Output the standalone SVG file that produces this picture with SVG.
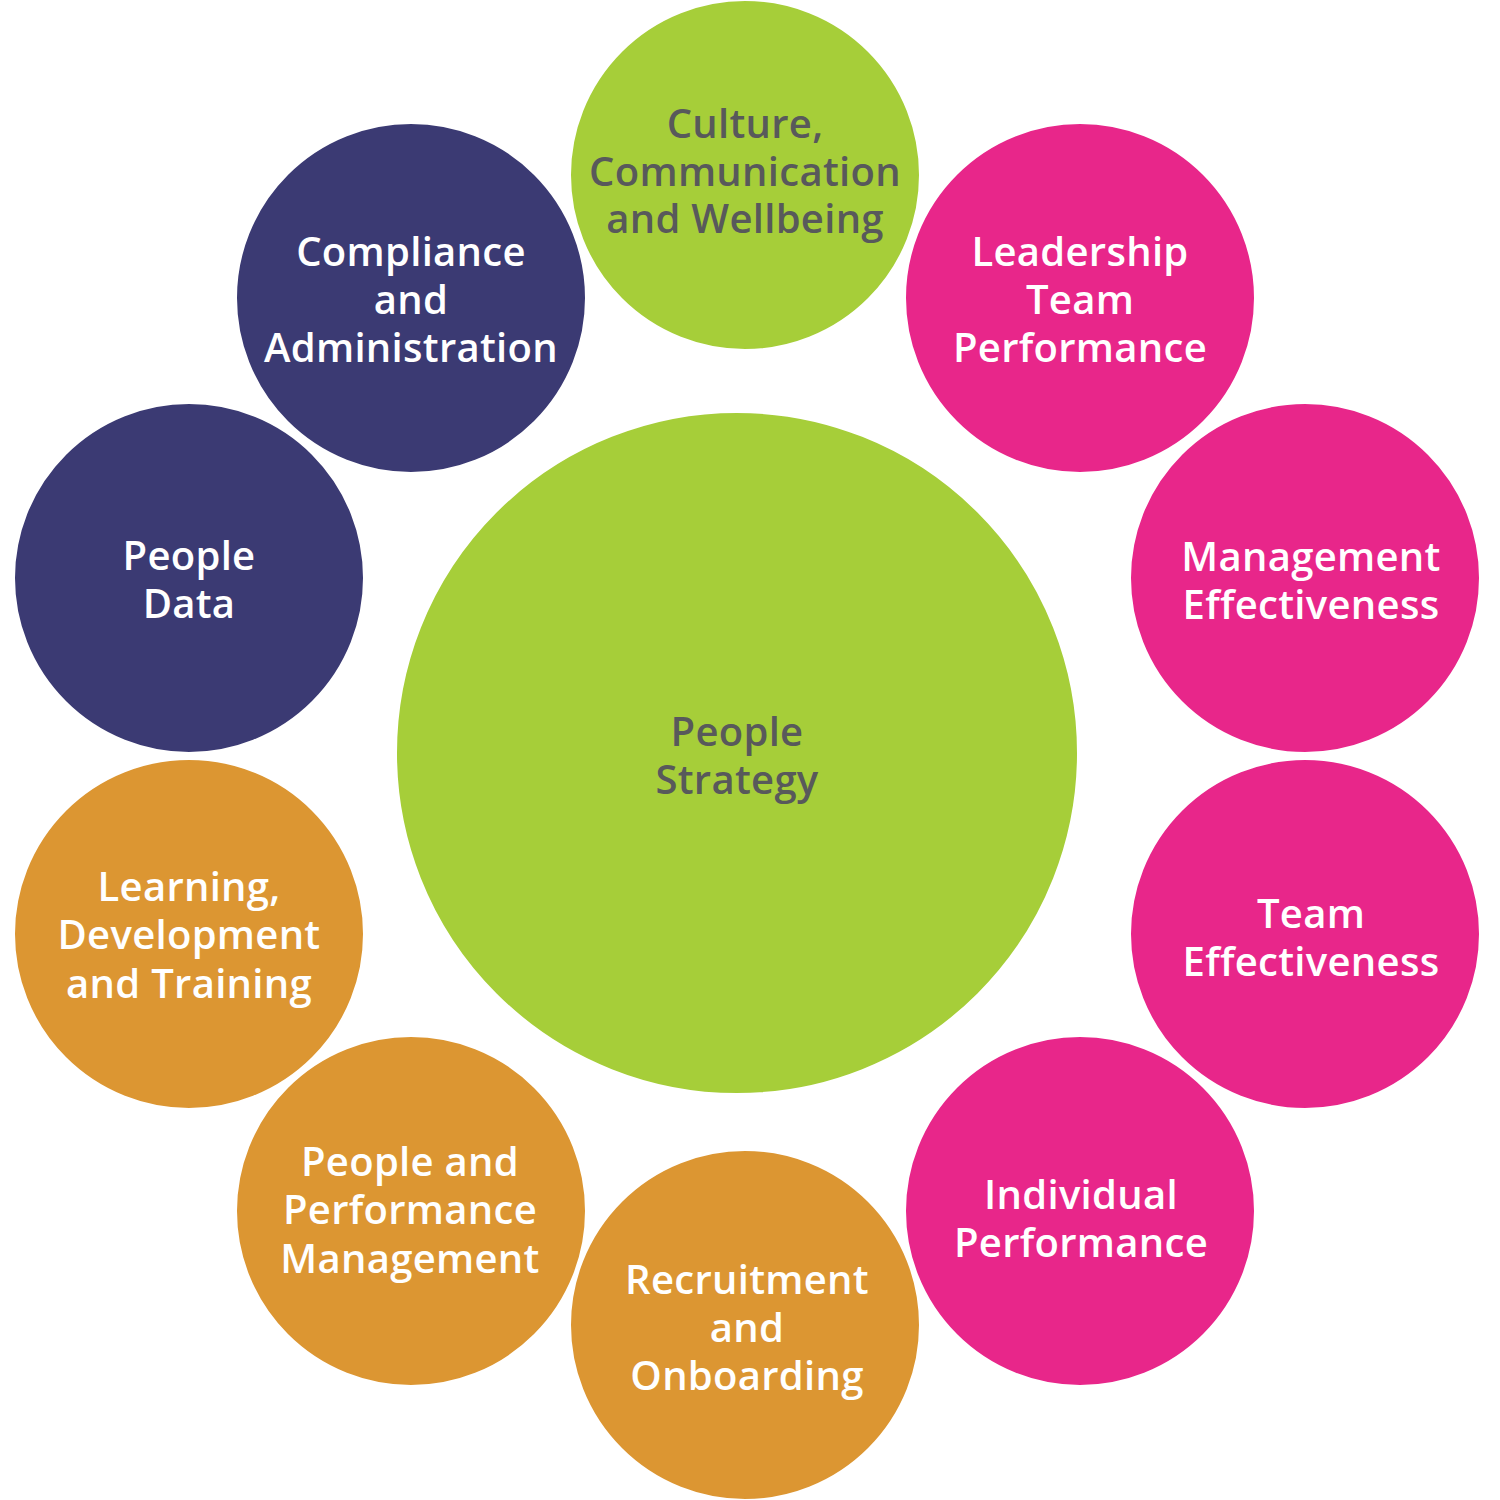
<svg xmlns="http://www.w3.org/2000/svg" width="1500" height="1500" viewBox="0 0 1500 1500">
<style>
.c{stroke:#fff;stroke-width:4}
.g{fill:#A6CE39}.n{fill:#3B3A73}.p{fill:#E8268A}.o{fill:#DC9632}
text{font-family:"Open Sans","Liberation Sans",sans-serif;font-weight:600;font-size:40px;letter-spacing:0.3px;text-anchor:middle}
.w{fill:#fff}.d{fill:#58595B}
</style>
<rect width="1500" height="1500" fill="#fff"/>
<g id="connectors"/>
<g id="culture"><circle class="c g" cx="745" cy="175" r="176"/><text class="d" x="745"><tspan x="745" y="138">Culture,</tspan><tspan x="745" y="186">Communication</tspan><tspan x="745" y="233">and Wellbeing</tspan></text></g>
<g id="compliance"><circle class="c n" cx="411" cy="298" r="176"/><text class="w"><tspan x="411" y="266">Compliance</tspan><tspan x="411" y="314">and</tspan><tspan x="411" y="362">Administration</tspan></text></g>
<g id="leadership"><circle class="c p" cx="1080" cy="298" r="176"/><text class="w"><tspan x="1080" y="266">Leadership</tspan><tspan x="1080" y="314">Team</tspan><tspan x="1080" y="362">Performance</tspan></text></g>
<g id="management"><circle class="c p" cx="1305" cy="578" r="176"/><text class="w"><tspan x="1311" y="571">Management</tspan><tspan x="1311" y="619">Effectiveness</tspan></text></g>
<g id="team"><circle class="c p" cx="1305" cy="934" r="176"/><text class="w"><tspan x="1311" y="928">Team</tspan><tspan x="1311" y="976">Effectiveness</tspan></text></g>
<g id="individual"><circle class="c p" cx="1080" cy="1211" r="176"/><text class="w"><tspan x="1081" y="1209">Individual</tspan><tspan x="1081" y="1257">Performance</tspan></text></g>
<g id="recruitment"><circle class="c o" cx="745" cy="1325" r="176"/><text class="w"><tspan x="747" y="1294">Recruitment</tspan><tspan x="747" y="1342">and</tspan><tspan x="747" y="1390">Onboarding</tspan></text></g>
<g id="peopleperf"><circle class="c o" cx="411" cy="1211" r="176"/><text class="w"><tspan x="410" y="1176">People and</tspan><tspan x="410" y="1224">Performance</tspan><tspan x="410" y="1273">Management</tspan></text></g>
<g id="learning"><circle class="c o" cx="189" cy="934" r="176"/><text class="w"><tspan x="189" y="901">Learning,</tspan><tspan x="189" y="949">Development</tspan><tspan x="189" y="998">and Training</tspan></text></g>
<g id="peopledata"><circle class="c n" cx="189" cy="578" r="176"/><text class="w"><tspan x="189" y="570">People</tspan><tspan x="189" y="618">Data</tspan></text></g>
<g id="strategy"><circle class="c g" cx="737" cy="753" r="342"/><text class="d"><tspan x="737" y="746">People</tspan><tspan x="737" y="794">Strategy</tspan></text></g>
</svg>
